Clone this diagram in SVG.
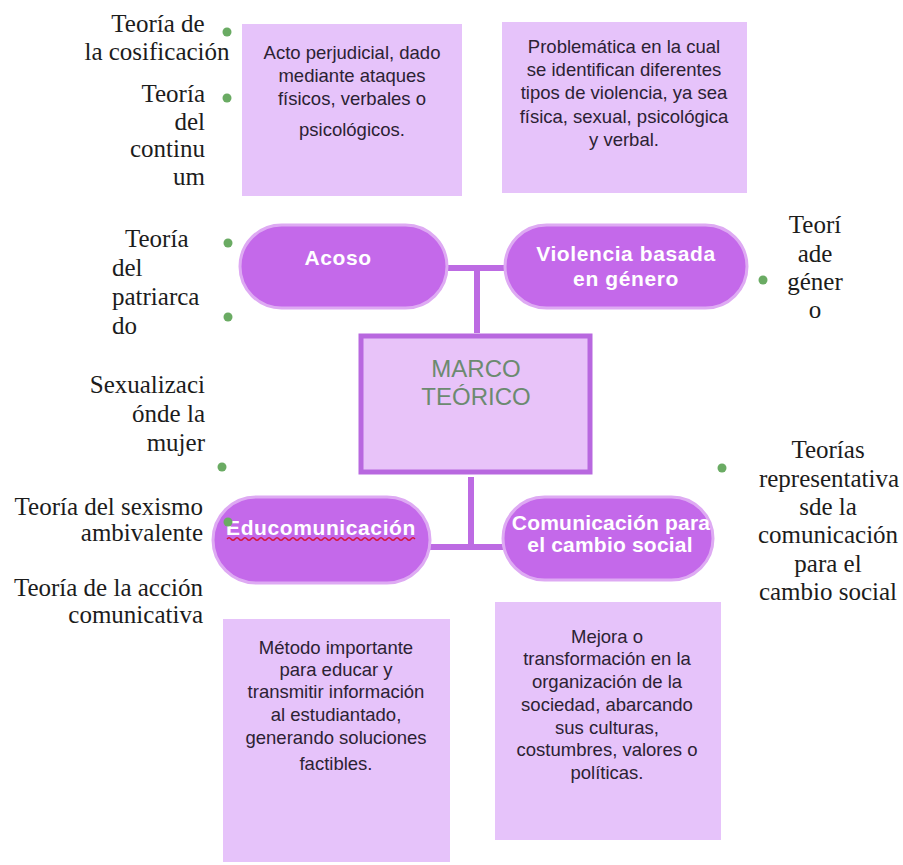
<svg xmlns="http://www.w3.org/2000/svg" width="903" height="865" viewBox="0 0 903 865">
<style>
.bg{fill:#ffffff}
.box{fill:#e6c3fa}
.pill{fill:#c469ea;stroke:#deaaf3;stroke-width:3}
.center{fill:#e8c3f9;stroke:#b868df;stroke-width:5}
.conn{stroke:#bd6be3;stroke-width:6;fill:none;stroke-linecap:butt}
.bt{font-family:"Liberation Sans",Arial,sans-serif;font-size:18.5px;fill:#2c2233;text-anchor:middle}
.pt{font-family:"Liberation Sans",Arial,sans-serif;font-size:21px;font-weight:bold;fill:#ffffff;text-anchor:middle;letter-spacing:0.6px}
.pt2{letter-spacing:0.2px}
.ct{font-family:"Liberation Sans",Arial,sans-serif;font-size:24px;fill:#6c8a70;text-anchor:middle}
.st{font-family:"Liberation Serif","Times New Roman",serif;font-size:25px;fill:#1c1c1c}
.mid{text-anchor:middle}
.end{text-anchor:end}
.dot{fill:#6aab63}
.wave{fill:none;stroke:#d3163f;stroke-width:1.4}
</style>
<rect class="bg" x="0" y="0" width="903" height="865"/>

<g id="connectors">
<line class="conn" x1="445" y1="268" x2="507" y2="268"/>
<line class="conn" x1="477" y1="268" x2="477" y2="333"/>
<line class="conn" x1="471" y1="477" x2="471" y2="547"/>
<line class="conn" x1="428" y1="547" x2="506" y2="547"/>
</g>

<g id="box-acto">
<rect class="box" x="242" y="24" width="220" height="172"/>
<text class="bt" x="352" y="59">Acto perjudicial, dado</text>
<text class="bt" x="352" y="82">mediante ataques</text>
<text class="bt" x="352" y="105">físicos, verbales o</text>
<text class="bt" x="352" y="136">psicológicos.</text>
</g>

<g id="box-problematica">
<rect class="box" x="502" y="22" width="245" height="171"/>
<text class="bt" x="624" y="53">Problemática en la cual</text>
<text class="bt" x="624" y="76">se identifican diferentes</text>
<text class="bt" x="624" y="99">tipos de violencia, ya sea</text>
<text class="bt" x="624" y="123">física, sexual, psicológica</text>
<text class="bt" x="624" y="146">y verbal.</text>
</g>

<g id="node-acoso">
<rect class="pill" x="240" y="225" width="207" height="83" rx="41.5"/>
<text class="pt" x="338" y="265">Acoso</text>
</g>

<g id="node-violencia">
<rect class="pill" x="505" y="225" width="242" height="83" rx="41.5"/>
<text class="pt" x="626" y="261">Violencia basada</text>
<text class="pt" x="626" y="286">en género</text>
</g>

<g id="node-marco">
<rect class="center" x="361" y="336" width="229" height="136"/>
<text class="ct" x="476" y="377">MARCO</text>
<text class="ct" x="476" y="405">TEÓRICO</text>
</g>

<g id="node-educomunicacion">
<rect class="pill" x="213" y="497" width="217" height="86" rx="43"/>
<text class="pt" x="321" y="535">Educomunicación</text>
<path class="wave" d="M227 539 q2 -2.5 4 0 t4 0 t4 0 t4 0 t4 0 t4 0 t4 0 t4 0 t4 0 t4 0 t4 0 t4 0 t4 0 t4 0 t4 0 t4 0 t4 0 t4 0 t4 0 t4 0 t4 0 t4 0 t4 0 t4 0 t4 0 t4 0 t4 0 t4 0 t4 0 t4 0 t4 0 t4 0 t4 0 t4 0 t4 0 t4 0 t4 0 t4 0 t4 0 t4 0 t4 0 t4 0 t4 0 t4 0 t4 0 t4 0 t4 0"/>
</g>

<g id="node-comunicacion">
<rect class="pill" x="503" y="497" width="210" height="83" rx="41.5"/>
<text class="pt pt2" x="611" y="530">Comunicación para</text>
<text class="pt pt2" x="610" y="552">el cambio social</text>
</g>

<g id="box-metodo">
<rect class="box" x="223" y="619" width="227" height="243"/>
<text class="bt" x="336" y="654">Método importante</text>
<text class="bt" x="336" y="676">para educar y</text>
<text class="bt" x="336" y="698">transmitir información</text>
<text class="bt" x="336" y="721">al estudiantado,</text>
<text class="bt" x="336" y="744">generando soluciones</text>
<text class="bt" x="336" y="770">factibles.</text>
</g>

<g id="box-mejora">
<rect class="box" x="495" y="602" width="226" height="238"/>
<text class="bt" x="607" y="643">Mejora o</text>
<text class="bt" x="607" y="665">transformación en la</text>
<text class="bt" x="607" y="688">organización de la</text>
<text class="bt" x="607" y="711">sociedad, abarcando</text>
<text class="bt" x="607" y="734">sus culturas,</text>
<text class="bt" x="607" y="756">costumbres, valores o</text>
<text class="bt" x="607" y="779">políticas.</text>
</g>

<g id="theory-cosificacion">
<text class="st mid" x="158" y="32">Teoría de</text>
<text class="st mid" x="157" y="60">la cosificación</text>
<circle class="dot" cx="227" cy="32" r="4.5"/>
</g>

<g id="theory-continuum">
<text class="st end" x="205" y="102">Teoría</text>
<text class="st end" x="205" y="130">del</text>
<text class="st end" x="205" y="157">continu</text>
<text class="st end" x="205" y="185">um</text>
<circle class="dot" cx="227" cy="98" r="4.5"/>
</g>

<g id="theory-patriarcado">
<text class="st" x="125" y="247">Teoría</text>
<text class="st" x="112" y="276">del</text>
<text class="st" x="112" y="305">patriarca</text>
<text class="st" x="112" y="334">do</text>
<circle class="dot" cx="228" cy="243" r="4.5"/>
<circle class="dot" cx="228" cy="317" r="4.5"/>
</g>

<g id="theory-sexualizacion">
<text class="st end" x="205" y="393">Sexualizaci</text>
<text class="st end" x="205" y="422">ónde la</text>
<text class="st end" x="205" y="451">mujer</text>
<circle class="dot" cx="222" cy="467" r="4.5"/>
</g>

<g id="theory-sexismo">
<text class="st end" x="203" y="515">Teoría del sexismo</text>
<text class="st end" x="203" y="541">ambivalente</text>
<circle class="dot" cx="228" cy="522" r="4.5"/>
</g>

<g id="theory-accion">
<text class="st end" x="203" y="596">Teoría de la acción</text>
<text class="st end" x="203" y="623">comunicativa</text>
</g>

<g id="theory-genero">
<circle class="dot" cx="763" cy="280" r="4.5"/>
<text class="st mid" x="815" y="233">Teorí</text>
<text class="st mid" x="815" y="262">ade</text>
<text class="st mid" x="815" y="290">géner</text>
<text class="st mid" x="815" y="318">o</text>
</g>

<g id="theory-representativas">
<circle class="dot" cx="722" cy="468" r="4.5"/>
<text class="st mid" x="828" y="458">Teorías</text>
<text class="st mid" x="829" y="487">representativa</text>
<text class="st mid" x="828" y="515">sde la</text>
<text class="st mid" x="828" y="543">comunicación</text>
<text class="st mid" x="828" y="572">para el</text>
<text class="st mid" x="828" y="600">cambio social</text>
</g>
</svg>
